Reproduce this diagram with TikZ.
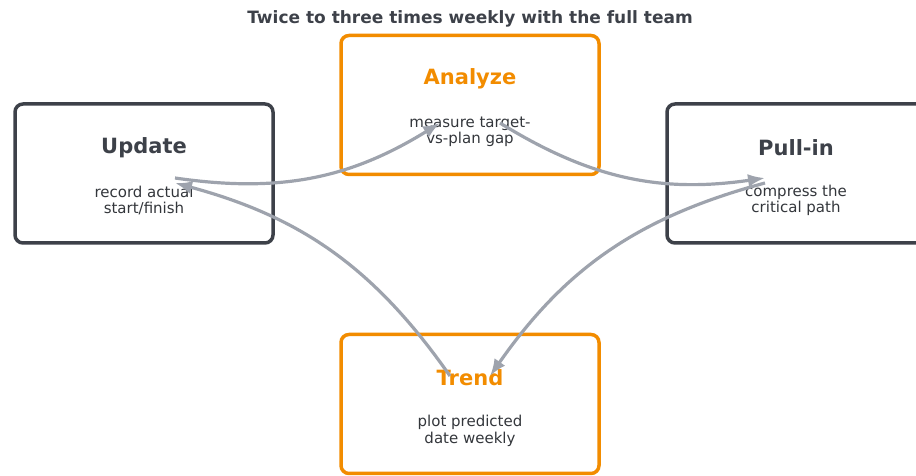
\documentclass[tikz,border=0pt]{standalone}
\usepackage{fontspec}
\setmainfont{DejaVu Sans}
\usetikzlibrary{arrows.meta, positioning}
\definecolor{slate}{HTML}{3D4149}
\definecolor{amber}{HTML}{F28C00}
\definecolor{steel}{HTML}{9EA3AD}
\definecolor{ink}{HTML}{33363B}

\begin{document}
\begin{tikzpicture}[x=1pt,y=1pt, box node/.style={rectangle,rounded corners=8pt,draw=slate,line width=3.5pt,minimum width=258pt,minimum height=139pt}, hot node/.style={box node,draw=amber}, head/.style={font=\bfseries\fontsize{21}{24}\selectfont,text=slate}, hot head/.style={head,text=amber}, desc/.style={font=\fontsize{15}{16.5}\selectfont,text=ink,align=center}, flow/.style={-{Latex[length=17pt,width=13pt]},draw=steel,line width=3.2pt,bend right=20}]

  \useasboundingbox (0,0) rectangle (916,476);

  \node[font=\bfseries\fontsize{17}{20}\selectfont,text=slate] (T) at (470,457) {Twice to three times weekly with the full team};

  \node[box node] (U) at (144,302.5) {};
  \node[hot node] (A) at (470,371) {};
  \node[box node] (P) at (796,302.5) {};
  \node[hot node] (R) at (470,72) {};

  \node[head] (Uh) at ([yshift=26]U.center) {Update};
  \node[desc] (Ud) at ([yshift=-27]U.center) {record actual\\start/finish};
  \node[hot head] (Ah) at ([yshift=26]A.center) {Analyze};
  \node[desc] (Ad) at ([yshift=-27]A.center) {measure target-\\vs-plan gap};
  \node[head] (Ph) at ([yshift=26]P.center) {Pull-in};
  \node[desc] (Pd) at ([yshift=-27]P.center) {compress the\\critical path};
  \node[hot head] (Rh) at ([yshift=26]R.center) {Trend};
  \node[desc] (Rd) at ([yshift=-27]R.center) {plot predicted\\date weekly};

  % arrow ends near the node centres
  \coordinate (u1) at (175,298);
  \coordinate (u2) at (175,293);
  \coordinate (a1) at (440,353);
  \coordinate (a2) at (500,353);
  \coordinate (p1) at (765,298);
  \coordinate (p2) at (765,293);
  \coordinate (r1) at (490,100);
  \coordinate (r2) at (450,100);

  \draw[flow] (u1) to (a1);
  \draw[flow] (a2) to (p1);
  \draw[flow] (p2) to (r1);
  \draw[flow] (r2) to (u2);
\end{tikzpicture}
\end{document}
